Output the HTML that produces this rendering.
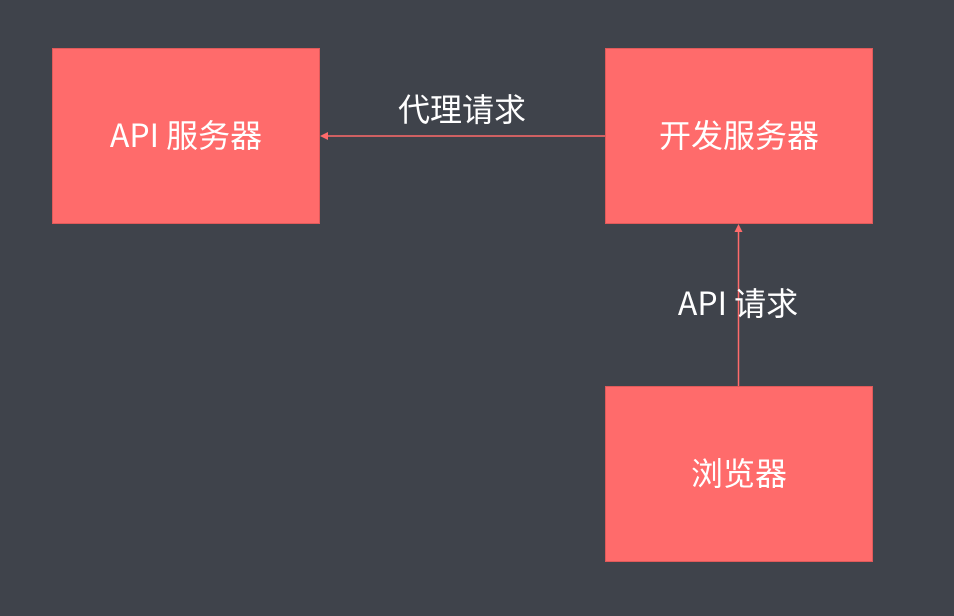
<!DOCTYPE html>
<html><head><meta charset="utf-8"><style>
html,body{margin:0;padding:0;background:#3f434b;}
svg{display:block}
text{font-family:"Noto Sans CJK SC",sans-serif;fill:#fff;font-size:32px;text-anchor:middle;dominant-baseline:central}
</style></head><body>
<svg width="954" height="616" viewBox="0 0 954 616">
<rect width="954" height="616" fill="#3f434b"/>
<rect x="52.5" y="48.5" width="267" height="175" fill="#ff6b6b" stroke="#e05a5a"/>
<rect x="605.5" y="48.5" width="267" height="175" fill="#ff6b6b" stroke="#e05a5a"/>
<rect x="605.5" y="386.5" width="267" height="175" fill="#ff6b6b" stroke="#e05a5a"/>
<line x1="605" y1="136" x2="326" y2="136" stroke="#ff6b6b" stroke-width="1.5"/>
<polygon points="320,136 328,132 328,140" fill="#ff6b6b"/>
<line x1="738.5" y1="386" x2="738.5" y2="230" stroke="#ff6b6b" stroke-width="1.5"/>
<polygon points="738.5,224 734.5,232 742.5,232" fill="#ff6b6b"/>
<text x="186" y="134">API 服务器</text>
<text x="739" y="134">开发服务器</text>
<text x="739" y="472">浏览器</text>
<text x="462" y="108">代理请求</text>
<text x="738" y="302">API 请求</text>
</svg>
</body></html>
